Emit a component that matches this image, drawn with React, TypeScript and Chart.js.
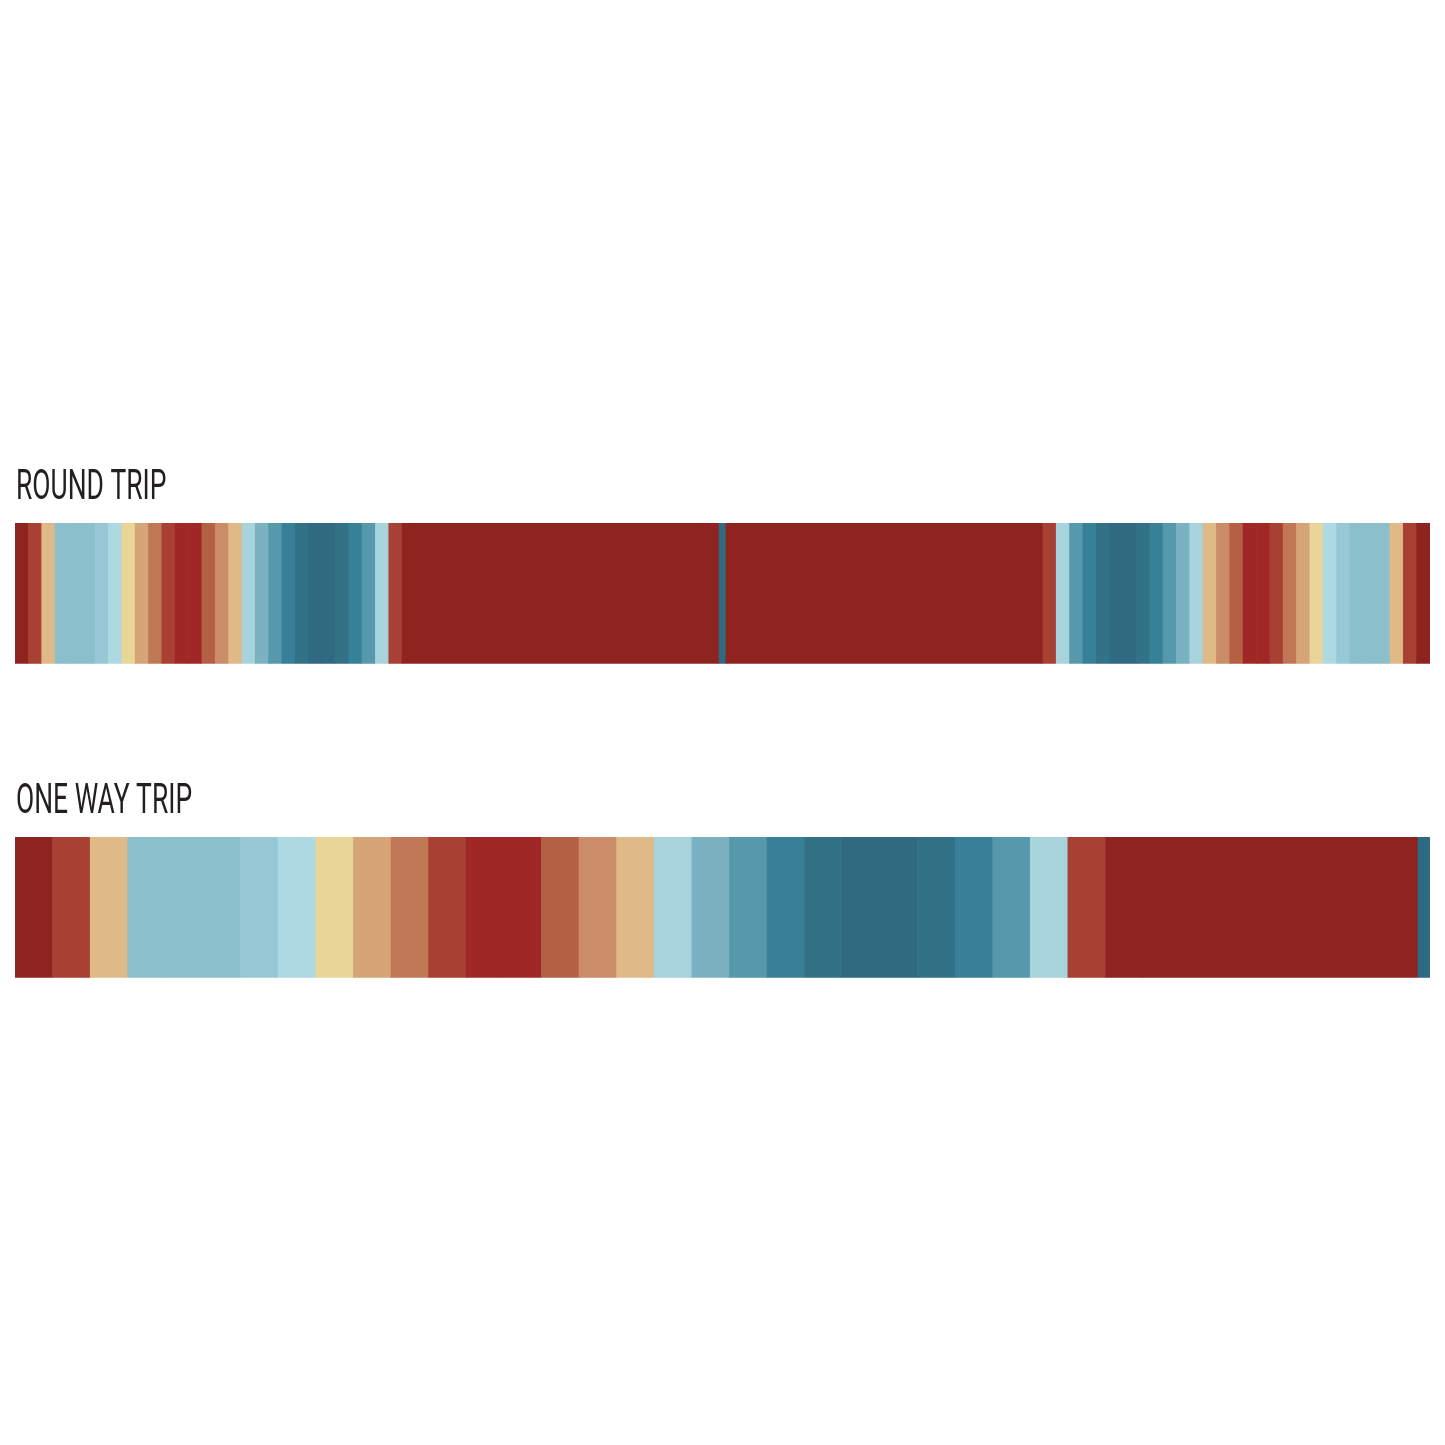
import React, { useEffect, useRef } from 'react';
import { Chart, registerables } from 'chart.js';

Chart.register(...registerables);

// Row titles
const rowLabels = ['ROUND TRIP', 'ONE WAY TRIP'];

// Diverging colour levels (0 = darkest red ... 17 = darkest teal)
const palette = [
  '#8e2320', '#9f2726', '#a84033', '#b36045', '#c07756', '#cb8d68',
  '#d6a577', '#dfb986', '#e9d598', '#acd9e2', '#a6d3dc', '#98c8d5',
  '#8bbfcb', '#7ab2c2', '#5699ad', '#378097', '#327186', '#2f6a80',
];

// ROUND TRIP stripes: width (units) and colour level of each stripe
const roundTripWidths = [
  1, 1, 1, 1, 1, 1, 1, 1, 1, 1, 1, 1, 1, 1, 1, 1, 1, 1, 1, 1, 1, 1, 1, 1, 1, 1, 1, 1, 1,
  23.74, 0.52, 23.74,
  1, 1, 1, 1, 1, 1, 1, 1, 1, 1, 1, 1, 1, 1, 1, 1, 1, 1, 1, 1, 1, 1, 1, 1, 1, 1, 1, 1, 1,
];
const roundTripLevels = [
  0, 2, 7, 12, 12, 12, 11, 9, 8, 6, 4, 2, 1, 1, 3, 5, 7, 10, 13, 14, 15, 16, 17, 17, 16, 15, 14, 10, 2,
  0, 17, 0,
  2, 10, 14, 15, 16, 17, 17, 16, 15, 14, 13, 10, 7, 5, 3, 1, 1, 2, 4, 6, 8, 9, 11, 12, 12, 12, 7, 2, 0,
];

// ONE WAY TRIP stripes
const oneWayWidths = [
  1, 1, 1, 1, 1, 1, 1, 1, 1, 1, 1, 1, 1, 1, 1, 1, 1, 1, 1, 1, 1, 1, 1, 1, 1, 1, 1, 1, 1, 1,
  7.31, 0.32,
];
const oneWayLevels = [
  0, 2, 7, 12, 12, 12, 11, 9, 8, 6, 4, 2, 1, 1, 3, 5, 7, 10, 13, 14, 15, 16, 17, 17, 16, 15, 14, 10, 2, 0,
  0, 17,
];

const BAR_THICKNESS = 140;

function toSegments(widths: number[], row: string) {
  let acc = 0;
  return widths.map((w) => {
    const s = acc;
    acc += w;
    return { x: [s, acc], y: row };
  });
}

const sum = (a: number[]) => a.reduce((p, c) => p + c, 0);

const titlePlugin = {
  id: 'rowTitles',
  afterDatasetsDraw(chart: any) {
    const { ctx, chartArea, scales } = chart;
    rowLabels.forEach((label, i) => {
      const yc = scales.y.getPixelForValue(i);
      const top = yc - BAR_THICKNESS / 2;
      ctx.save();
      ctx.font = '400 42px Roboto';
      ctx.fillStyle = '#231f20';
      ctx.textBaseline = 'alphabetic';
      ctx.textAlign = 'left';
      ctx.translate(chartArea.left + 1, top - 24);
      ctx.scale(0.63, 1);
      ctx.fillText(label, 0, 0);
      ctx.restore();
    });
  },
};

export default function App() {
  const ref = useRef<HTMLCanvasElement | null>(null);

  useEffect(() => {
    if (!ref.current) return;
    const chart = new Chart(ref.current, {
      type: 'bar',
      data: {
        labels: rowLabels,
        datasets: [
          {
            label: rowLabels[0],
            data: toSegments(roundTripWidths, rowLabels[0]) as any,
            backgroundColor: roundTripLevels.map((l) => palette[l]),
            borderWidth: 0,
            barThickness: BAR_THICKNESS,
            grouped: false,
            xAxisID: 'x',
          } as any,
          {
            label: rowLabels[1],
            data: toSegments(oneWayWidths, rowLabels[1]) as any,
            backgroundColor: oneWayLevels.map((l) => palette[l]),
            borderWidth: 0,
            barThickness: BAR_THICKNESS,
            grouped: false,
            xAxisID: 'x2',
          } as any,
        ],
      },
      options: {
        indexAxis: 'y',
        animation: false,
        responsive: true,
        maintainAspectRatio: false,
        layout: { padding: { left: 7, right: 7, top: 428.3, bottom: 372.7 } },
        plugins: {
          legend: { display: false },
          tooltip: { enabled: false },
          title: { display: false },
        },
        scales: {
          y: { type: 'category', display: false, offset: true },
          x: { type: 'linear', display: false, min: 0, max: sum(roundTripWidths) },
          x2: { type: 'linear', display: false, min: 0, max: sum(oneWayWidths) },
        },
      },
      plugins: [titlePlugin],
    });
    return () => chart.destroy();
  }, []);

  return (
    <div style={{ width: '1429px', height: '1429px', position: 'relative' }}>
      <canvas ref={ref} />
    </div>
  );
}
